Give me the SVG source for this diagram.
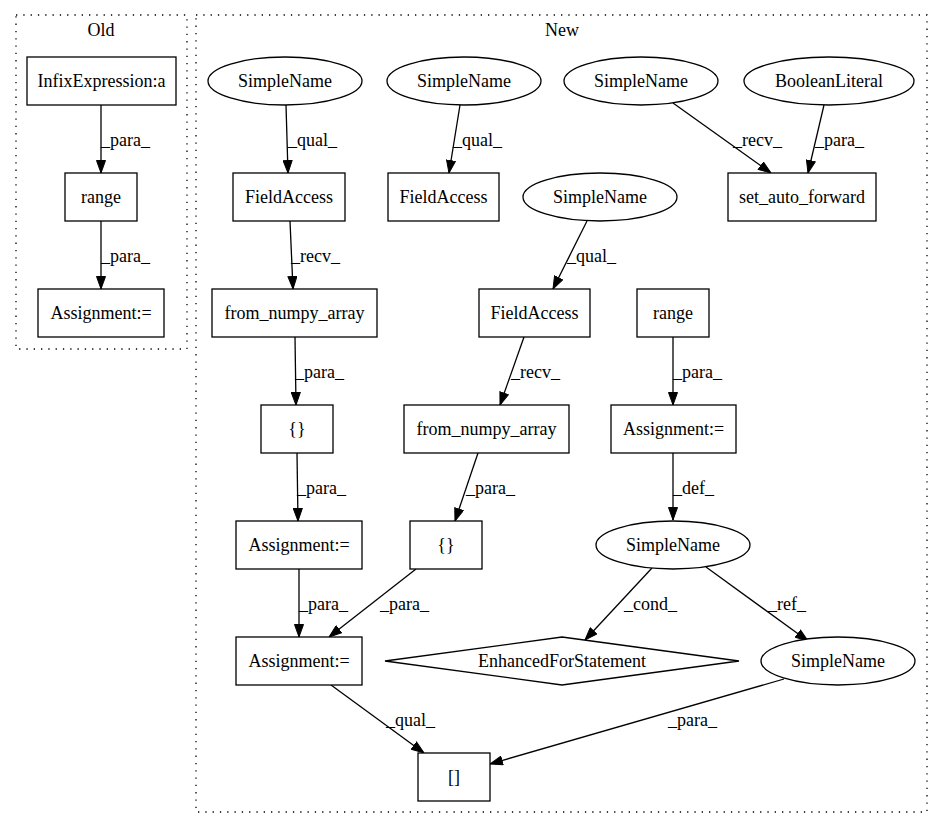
<svg xmlns="http://www.w3.org/2000/svg" width="941" height="828" viewBox="0 0 941 828">
<defs>
<marker id="ah" markerWidth="13" markerHeight="10" refX="13" refY="5" orient="auto" markerUnits="userSpaceOnUse">
<path d="M0.5,0.5 L13,5 L0.5,9.5 z" fill="#000" stroke="#000" stroke-width="1"/>
</marker>
</defs>
<style>
text{font-family:"Liberation Serif","Times New Roman",serif;font-size:18px;fill:#000}
.n{text-anchor:middle}
.box{fill:#fff;stroke:#000;stroke-width:1.3}
.cl{fill:none;stroke:#000;stroke-width:1.3;stroke-dasharray:1.3,6}
.e{fill:none;stroke:#000;stroke-width:1.3;marker-end:url(#ah)}
</style>
<rect width="941" height="828" fill="#fff"/>
<g id="cluster_old">
<rect class="cl" x="16" y="15" width="171" height="334"/>
<text class="n" x="101" y="36">Old</text>
</g>
<g id="cluster_new">
<rect class="cl" x="196" y="15" width="731" height="797"/>
<text class="n" x="562" y="36">New</text>
</g>
<g id="connectors">
<line class="e" x1="101" y1="105" x2="101" y2="173"/>
<text x="101" y="146">_para_</text>
<line class="e" x1="101" y1="221" x2="101" y2="289"/>
<text x="101" y="262">_para_</text>
<line class="e" x1="286" y1="105" x2="288" y2="173"/>
<text x="288" y="146">_qual_</text>
<line class="e" x1="460" y1="105" x2="449" y2="173"/>
<text x="453" y="146">_qual_</text>
<line class="e" x1="673" y1="103" x2="771" y2="173"/>
<text x="733" y="146">_recv_</text>
<line class="e" x1="824" y1="105" x2="808" y2="173"/>
<text x="815" y="146">_para_</text>
<line class="e" x1="587" y1="221" x2="553" y2="289"/>
<text x="567" y="262">_qual_</text>
<line class="e" x1="290" y1="221" x2="293" y2="289"/>
<text x="291" y="262">_recv_</text>
<line class="e" x1="524" y1="337" x2="500" y2="405"/>
<text x="511" y="378">_recv_</text>
<line class="e" x1="295" y1="337" x2="296" y2="405"/>
<text x="295" y="378">_para_</text>
<line class="e" x1="478" y1="453" x2="455" y2="521"/>
<text x="466" y="494">_para_</text>
<line class="e" x1="297" y1="453" x2="298" y2="521"/>
<text x="297" y="494">_para_</text>
<line class="e" x1="673" y1="337" x2="673" y2="405"/>
<text x="673" y="378">_para_</text>
<line class="e" x1="673" y1="453" x2="673" y2="520"/>
<text x="673" y="494">_def_</text>
<line class="e" x1="299" y1="569" x2="299" y2="637"/>
<text x="299" y="610">_para_</text>
<line class="e" x1="416" y1="569" x2="329" y2="637"/>
<text x="380" y="610">_para_</text>
<line class="e" x1="652" y1="568" x2="585" y2="640"/>
<text x="624" y="610">_cond_</text>
<line class="e" x1="706" y1="567" x2="808" y2="641"/>
<text x="768" y="610">_ref_</text>
<line class="e" x1="331" y1="685" x2="424" y2="753"/>
<text x="386" y="726">_qual_</text>
<line class="e" x1="784" y1="679" x2="490" y2="764"/>
<text x="668" y="726">_para_</text>
</g>
<g id="old_infix">
<rect class="box" x="27" y="57" width="149" height="48"/>
<text class="n" x="101.5" y="87">InfixExpression:a</text>
</g>
<g id="old_range">
<rect class="box" x="65" y="173" width="72" height="48"/>
<text class="n" x="101" y="203">range</text>
</g>
<g id="old_assign">
<rect class="box" x="38" y="289" width="126" height="48"/>
<text class="n" x="101" y="319">Assignment:=</text>
</g>
<g id="sn1">
<ellipse class="box" cx="285" cy="81" rx="77" ry="24"/>
<text class="n" x="285" y="87">SimpleName</text>
</g>
<g id="sn2">
<ellipse class="box" cx="464" cy="81" rx="77" ry="24"/>
<text class="n" x="464" y="87">SimpleName</text>
</g>
<g id="sn3">
<ellipse class="box" cx="641" cy="81" rx="77" ry="24"/>
<text class="n" x="641" y="87">SimpleName</text>
</g>
<g id="bool">
<ellipse class="box" cx="829" cy="81" rx="85" ry="24"/>
<text class="n" x="829" y="87">BooleanLiteral</text>
</g>
<g id="fa1">
<rect class="box" x="233" y="173" width="112" height="48"/>
<text class="n" x="289" y="203">FieldAccess</text>
</g>
<g id="fa2">
<rect class="box" x="388" y="173" width="111" height="48"/>
<text class="n" x="443.5" y="203">FieldAccess</text>
</g>
<g id="saf">
<rect class="box" x="728" y="173" width="148" height="48"/>
<text class="n" x="802" y="203">set_auto_forward</text>
</g>
<g id="sn4">
<ellipse class="box" cx="600" cy="197" rx="77" ry="24"/>
<text class="n" x="600" y="203">SimpleName</text>
</g>
<g id="fna1">
<rect class="box" x="212" y="289" width="165" height="48"/>
<text class="n" x="294.5" y="319">from_numpy_array</text>
</g>
<g id="fa3">
<rect class="box" x="479" y="289" width="111" height="48"/>
<text class="n" x="534.5" y="319">FieldAccess</text>
</g>
<g id="range2">
<rect class="box" x="637" y="289" width="72" height="48"/>
<text class="n" x="673" y="319">range</text>
</g>
<g id="br1">
<rect class="box" x="261" y="405" width="72" height="48"/>
<text class="n" x="297" y="435">{}</text>
</g>
<g id="fna2">
<rect class="box" x="404" y="405" width="165" height="48"/>
<text class="n" x="486.5" y="435">from_numpy_array</text>
</g>
<g id="asg3">
<rect class="box" x="611" y="405" width="125" height="48"/>
<text class="n" x="673.5" y="435">Assignment:=</text>
</g>
<g id="asg2">
<rect class="box" x="236" y="521" width="126" height="48"/>
<text class="n" x="299" y="551">Assignment:=</text>
</g>
<g id="br2">
<rect class="box" x="410" y="521" width="72" height="48"/>
<text class="n" x="446" y="551">{}</text>
</g>
<g id="sn5">
<ellipse class="box" cx="673" cy="545" rx="77" ry="24"/>
<text class="n" x="673" y="551">SimpleName</text>
</g>
<g id="asg1">
<rect class="box" x="236" y="637" width="126" height="48"/>
<text class="n" x="299" y="667">Assignment:=</text>
</g>
<g id="efs">
<polygon class="box" points="562,637 739,661 562,685 385,661"/>
<text class="n" x="562" y="667">EnhancedForStatement</text>
</g>
<g id="sn6">
<ellipse class="box" cx="838" cy="661" rx="77" ry="24"/>
<text class="n" x="838" y="667">SimpleName</text>
</g>
<g id="idx">
<rect class="box" x="418" y="753" width="72" height="48"/>
<text class="n" x="454" y="783">[]</text>
</g>
</svg>
